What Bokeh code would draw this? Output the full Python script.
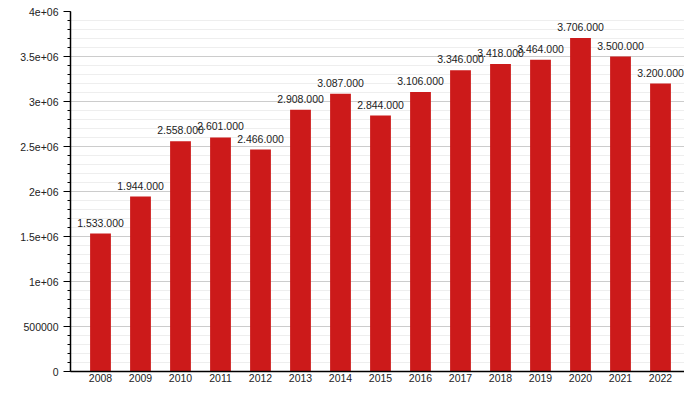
from bokeh.plotting import figure
from bokeh.models import Range1d, FixedTicker, ColumnDataSource, LabelSet
from bokeh.core.properties import value
from bokeh.embed import file_html
from bokeh.resources import INLINE

years = [2008, 2009, 2010, 2011, 2012, 2013, 2014, 2015, 2016, 2017, 2018, 2019, 2020, 2021, 2022]
values = [1533000, 1944000, 2558000, 2601000, 2466000, 2908000, 3087000, 2844000,
          3106000, 3346000, 3418000, 3464000, 3706000, 3500000, 3200000]
bar_labels = ["1.533.000", "1.944.000", "2.558.000", "2.601.000", "2.466.000", "2.908.000",
              "3.087.000", "2.844.000", "3.106.000", "3.346.000", "3.418.000", "3.464.000",
              "3.706.000", "3.500.000", "3.200.000"]
y_ticks = [0, 500000, 1000000, 1500000, 2000000, 2500000, 3000000, 3500000, 4000000]
y_tick_labels = ["0", "500000", "1e+06", "1.5e+06", "2e+06", "2.5e+06", "3e+06", "3.5e+06", "4e+06"]
y_minor = [i * 100000 for i in range(41)]

FONT = "Liberation Sans"
TXT = "#222222"
BAR = "#cc1a1a"

src = ColumnDataSource(dict(x=years, top=values, label=bar_labels))

p = figure(width=684, height=384, output_backend="svg", toolbar_location=None,
           x_range=Range1d(2007.25, 2022.6), y_range=Range1d(0, 4000000),
           min_border_left=70, min_border_right=0, min_border_top=11, min_border_bottom=13)
p.outline_line_color = None
p.background_fill_color = "white"

p.vbar(x="x", top="top", width=0.52, source=src, fill_color=BAR, line_color=None)
labels = LabelSet(x="x", y="top", text="label", source=src, text_align="center",
                  text_baseline="alphabetic", y_offset=7, text_font=value(FONT),
                  text_font_size="10.5px", text_color=TXT)
p.add_layout(labels)

# x axis
p.xaxis.ticker = FixedTicker(ticks=years)
p.xaxis.major_tick_line_color = None
p.xaxis.minor_tick_line_color = None
p.xaxis.major_tick_out = 0
p.xaxis.major_tick_in = 0
p.xaxis.major_label_standoff = 2
p.xaxis.major_label_text_font = FONT
p.xaxis.major_label_text_font_size = "10.5px"
p.xaxis.major_label_text_color = TXT
p.xaxis.axis_line_color = "black"
p.xaxis.axis_line_width = 1.5
p.xgrid.grid_line_color = None

# y axis
p.yaxis.ticker = FixedTicker(ticks=y_ticks, minor_ticks=y_minor)
p.yaxis.major_label_overrides = {t: l for t, l in zip(y_ticks, y_tick_labels)}
p.yaxis.major_tick_out = 7
p.yaxis.major_tick_in = 0
p.yaxis.minor_tick_out = 3
p.yaxis.minor_tick_in = 0
p.yaxis.major_label_standoff = 5
p.yaxis.major_label_text_font = FONT
p.yaxis.major_label_text_font_size = "10.5px"
p.yaxis.major_label_text_color = TXT
p.yaxis.axis_line_color = "black"
p.yaxis.axis_line_width = 1.5
p.yaxis.major_tick_line_color = "black"
p.yaxis.minor_tick_line_color = "black"
p.ygrid.grid_line_color = "#cccccc"
p.ygrid.minor_grid_line_color = "#eeeeee"

open("out.html", "w").write(file_html(p, INLINE))
